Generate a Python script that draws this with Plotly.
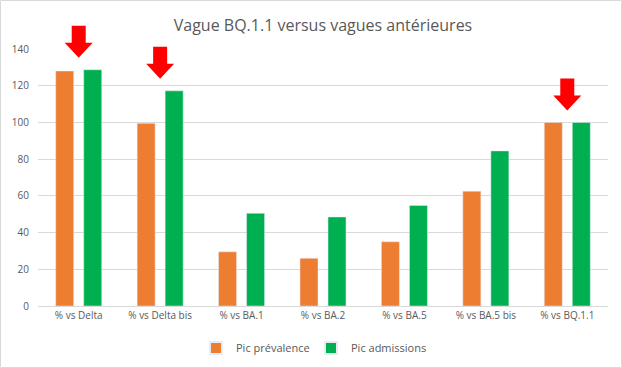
import plotly.graph_objects as go

categories = ["% vs Delta", "% vs Delta bis", "% vs BA.1", "% vs BA.2", "% vs BA.5", "% vs BA.5 bis", "% vs BQ.1.1"]
prevalence = [128, 99.5, 29.5, 26, 35, 62.5, 100]
admissions = [128.7, 117.2, 50.5, 48.5, 54.8, 84.5, 100]
arrow_categories = [0, 1, 6]  # category indices with a red arrow
y_ticks = [0, 20, 40, 60, 80, 100, 120, 140]
y_max = 140

title = "Vague BQ.1.1 versus vagues antérieures"
FONT = "Open Sans"
GREY = "#595959"

fig = go.Figure()
fig.add_trace(go.Bar(name="Pic prévalence", x=categories, y=prevalence, marker_color="#ED7D31"))
fig.add_trace(go.Bar(name="Pic admissions", x=categories, y=admissions, marker_color="#00B050"))

W, H = 622, 368
ml, mr, mt, mb = 38, 14, 49, 62
pw, ph = W - ml - mr, H - mt - mb

shapes = []
# arrows: pixel-sized paths anchored above the taller bar of each category
arrow_path = "M -7 44 L 7 44 L 7 27 L 14 27 L 0 12 L -14 27 L -7 27 Z"
for i in arrow_categories:
    shapes.append(dict(
        type="path", xref="x", yref="paper",
        xsizemode="pixel", ysizemode="pixel",
        xanchor=i, yanchor=max(prevalence[i], admissions[i]) / y_max,
        path=arrow_path, fillcolor="#FF0000", line=dict(width=0), layer="above",
    ))
# outer chart border
shapes.append(dict(type="rect", xref="paper", yref="paper",
                   x0=-(ml - 0.5) / pw, x1=1 + (mr - 0.5) / pw,
                   y0=-(mb - 0.5) / ph, y1=1 + (mt - 0.5) / ph,
                   line=dict(color="#D9D9D9", width=1), layer="below"))

fig.update_layout(
    width=W, height=H,
    margin=dict(l=ml, r=mr, t=mt, b=mb),
    paper_bgcolor="white", plot_bgcolor="white",
    title=dict(text=title, x=0.5, xref="paper", xanchor="center", y=1 - 25 / H, yanchor="middle",
               font=dict(family=FONT, size=16, color=GREY)),
    barmode="group", bargap=0.312, bargroupgap=0.357,
    showlegend=True,
    legend=dict(orientation="h", x=0.5, xanchor="center", xref="container",
                y=20 / H, yanchor="middle", yref="container",
                font=dict(family=FONT, size=11, color=GREY),
                itemwidth=30, tracegroupgap=0, itemsizing="constant",
                entrywidth=70, entrywidthmode="pixels"),
    font=dict(family=FONT, size=11, color=GREY),
    shapes=shapes,
)
fig.update_xaxes(showgrid=False, showline=True, linecolor="#D9D9D9", linewidth=1,
                 ticks="", tickfont=dict(family=FONT, size=10, color=GREY), fixedrange=True)
fig.update_yaxes(range=[0, y_max], tickvals=y_ticks, showgrid=True, gridcolor="#D9D9D9", gridwidth=1,
                 zeroline=False, showline=False, ticks="", ticklabelstandoff=8,
                 tickfont=dict(family=FONT, size=10, color=GREY))

fig.write_html("out.html", config={"displayModeBar": False},
               post_script="document.body.style.margin='0px';")
